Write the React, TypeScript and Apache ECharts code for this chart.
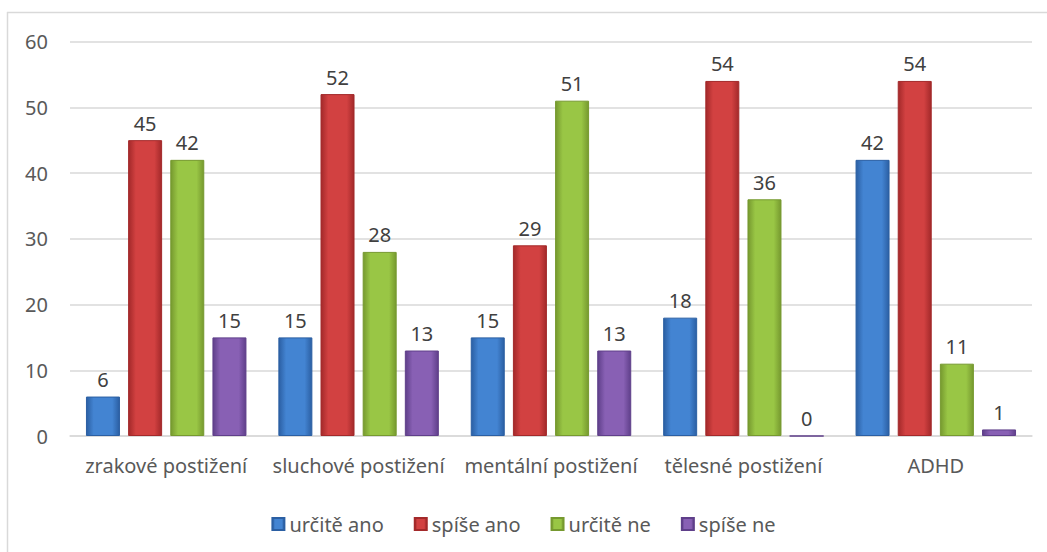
import React, { useEffect, useRef } from "react";
import * as echarts from "echarts";

const categories = ["zrakové postižení", "sluchové postižení", "mentální postižení", "tělesné postižení", "ADHD"];
const seriesNames = ["určitě ano", "spíše ano", "určitě ne", "spíše ne"];
const urciteAno = [6, 15, 15, 18, 42];
const spiseAno = [45, 52, 29, 54, 54];
const urciteNe = [42, 28, 51, 36, 11];
const spiseNe = [15, 13, 13, 0, 1];
const yTicks = [0, 10, 20, 30, 40, 50, 60];

const palettes = [
  { edge: "#2b5fa3", mid: "#4384d2" },
  { edge: "#a3292a", mid: "#d24141" },
  { edge: "#76992f", mid: "#99c645" },
  { edge: "#5f3f8a", mid: "#8860b4" },
];

function grad(p: { edge: string; mid: string }) {
  return new echarts.graphic.LinearGradient(0, 0, 1, 0, [
    { offset: 0, color: p.edge },
    { offset: 0.22, color: p.mid },
    { offset: 0.78, color: p.mid },
    { offset: 1, color: p.edge },
  ]);
}

export default function App() {
  const ref = useRef<HTMLDivElement>(null);
  useEffect(() => {
    const chart = echarts.init(ref.current!, null, { renderer: "svg" });
    const font = "'Noto Sans', 'Liberation Sans', sans-serif";
    const data = [urciteAno, spiseAno, urciteNe, spiseNe];
    chart.setOption({
      animation: false,
      backgroundColor: "#ffffff",
      textStyle: { fontFamily: font },
      grid: { left: 70, right: 15, top: 41.5, bottom: 116 },
      legend: {
        bottom: 13,
        left: "center",
        itemWidth: 12,
        itemHeight: 12,
        itemGap: 30,
        icon: "rect",
        textStyle: { fontSize: 20, color: "#595959", fontFamily: font, padding: [0, 0, 0, 0] },
        data: seriesNames,
      },
      xAxis: {
        type: "category",
        data: categories,
        axisLine: { lineStyle: { color: "#d9d9d9", width: 1.5 } },
        axisTick: { show: false },
        axisLabel: { fontSize: 20, color: "#595959", margin: 19, fontFamily: font, interval: 0, hideOverlap: false },
      },
      yAxis: {
        type: "value",
        min: 0,
        max: 60,
        interval: 10,
        axisLine: { show: false },
        axisTick: { show: false },
        splitLine: { lineStyle: { color: "#d9d9d9", width: 1.5 } },
        axisLabel: {
          fontSize: 20,
          color: "#595959",
          margin: 22,
          fontFamily: font,
          formatter: (v: number) => (yTicks.includes(v) ? String(v) : ""),
        },
      },
      series: seriesNames.map((name, i) => ({
        name,
        type: "bar",
        data: data[i],
        barWidth: 34,
        barGap: "24%",
        itemStyle: {
          color: grad(palettes[i]),
          borderColor: palettes[i].edge,
          borderWidth: 1,
        },
        label: {
          show: true,
          position: "top",
          distance: 7,
          fontSize: 20,
          color: "#404040",
          fontFamily: font,
        },
      })),
      graphic: [
        { type: "line", shape: { x1: 7, y1: 12.5, x2: 1047, y2: 12.5 }, style: { stroke: "#d9d9d9", lineWidth: 1.5 } },
        { type: "line", shape: { x1: 7.5, y1: 12, x2: 7.5, y2: 552 }, style: { stroke: "#d9d9d9", lineWidth: 1.5 } },
      ],
    });
    return () => chart.dispose();
  }, []);
  return (
    <div
      ref={ref}
      style={{ position: "fixed", left: 0, top: 0, width: 1047, height: 552, background: "#fff" }}
    />
  );
}
